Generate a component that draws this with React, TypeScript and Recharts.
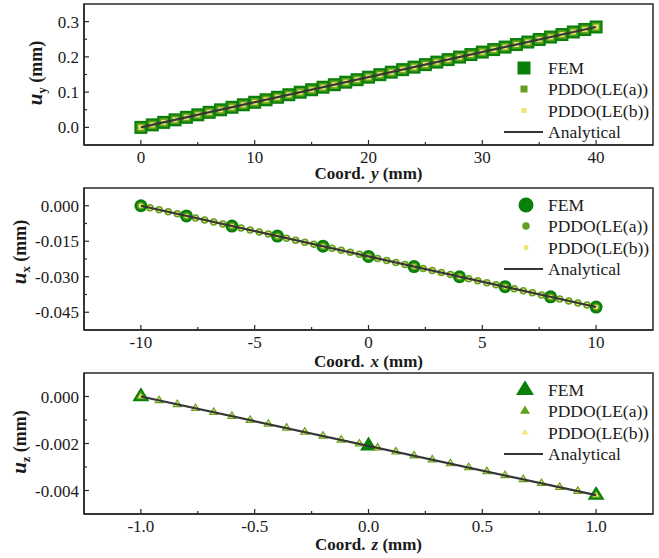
import React from 'react';
import { ScatterChart, Scatter, XAxis, YAxis, ReferenceArea, Legend } from 'recharts';

const FONT = 'Liberation Serif, DejaVu Serif, serif';
const C_FEM = '#0a7f0a';
const C_A = '#62a020';
const C_B = '#ece870';
const C_LINE = '#363636';
const C_AXIS = '#2a2a2a';
const C_TEXT = '#1a1a1a';

// ---------- Panel 1: u_y vs Coord. y ----------
const yCoord = [0, 1, 2, 3, 4, 5, 6, 7, 8, 9, 10, 11, 12, 13, 14, 15, 16, 17, 18, 19, 20, 21, 22, 23, 24, 25, 26, 27, 28, 29, 30, 31, 32, 33, 34, 35, 36, 37, 38, 39, 40];
const uyFem = [0, 0.0071, 0.0142, 0.0214, 0.0285, 0.0356, 0.0427, 0.0498, 0.057, 0.0641, 0.0712, 0.0783, 0.0854, 0.0926, 0.0997, 0.1068, 0.1139, 0.121, 0.1282, 0.1353, 0.1424, 0.1495, 0.1566, 0.1638, 0.1709, 0.178, 0.1851, 0.1922, 0.1994, 0.2065, 0.2136, 0.2207, 0.2278, 0.235, 0.2421, 0.2492, 0.2563, 0.2634, 0.2706, 0.2777, 0.2848];
const uyPddoA = uyFem;
const uyPddoB = uyFem;
const analyticalY = [0, 40];
const analyticalUy = [0, 0.2848];
const xTicks1 = [0, 5, 10, 15, 20, 25, 30, 35, 40];
const xMajor1 = [0, 10, 20, 30, 40];
const yTicks1 = [0, 0.05, 0.1, 0.15, 0.2, 0.25, 0.3];
const yMajor1 = [0, 0.1, 0.2, 0.3];

// ---------- Panel 2: u_x vs Coord. x ----------
const xFem = [-10, -8, -6, -4, -2, 0, 2, 4, 6, 8, 10];
const uxFem = [0, -0.0043, -0.0086, -0.0128, -0.0171, -0.0214, -0.0257, -0.03, -0.0342, -0.0385, -0.0428];
const xPddo = [-10, -9.6, -9.2, -8.8, -8.4, -8, -7.6, -7.2, -6.8, -6.4, -6, -5.6, -5.2, -4.8, -4.4, -4, -3.6, -3.2, -2.8, -2.4, -2, -1.6, -1.2, -0.8, -0.4, 0, 0.4, 0.8, 1.2, 1.6, 2, 2.4, 2.8, 3.2, 3.6, 4, 4.4, 4.8, 5.2, 5.6, 6, 6.4, 6.8, 7.2, 7.6, 8, 8.4, 8.8, 9.2, 9.6, 10];
const uxPddo = [0, -0.00086, -0.00171, -0.00257, -0.00342, -0.00428, -0.00514, -0.00599, -0.00685, -0.0077, -0.00856, -0.00942, -0.01027, -0.01113, -0.01198, -0.01284, -0.0137, -0.01455, -0.01541, -0.01626, -0.01712, -0.01798, -0.01883, -0.01969, -0.02054, -0.0214, -0.02226, -0.02311, -0.02397, -0.02482, -0.02568, -0.02654, -0.02739, -0.02825, -0.0291, -0.02996, -0.03082, -0.03167, -0.03253, -0.03338, -0.03424, -0.0351, -0.03595, -0.03681, -0.03766, -0.03852, -0.03938, -0.04023, -0.04109, -0.04194, -0.0428];
const analyticalX = [-10, 10];
const analyticalUx = [0, -0.0428];
const xTicks2 = [-10, -7.5, -5, -2.5, 0, 2.5, 5, 7.5, 10];
const xMajor2 = [-10, -5, 0, 5, 10];
const yTicks2 = [0, -0.0075, -0.015, -0.0225, -0.03, -0.0375, -0.045];
const yMajor2 = [0, -0.015, -0.03, -0.045];

// ---------- Panel 3: u_z vs Coord. z ----------
const zFem = [-1, 0, 1];
const uzFem = [0, -0.0021, -0.0042];
const zPddo = [-1, -0.92, -0.84, -0.76, -0.68, -0.6, -0.52, -0.44, -0.36, -0.28, -0.2, -0.12, -0.04, 0.04, 0.12, 0.2, 0.28, 0.36, 0.44, 0.52, 0.6, 0.68, 0.76, 0.84, 0.92, 1];
const uzPddo = [0, -0.000168, -0.000336, -0.000504, -0.000672, -0.00084, -0.001008, -0.001176, -0.001344, -0.001512, -0.00168, -0.001848, -0.002016, -0.002184, -0.002352, -0.00252, -0.002688, -0.002856, -0.003024, -0.003192, -0.00336, -0.003528, -0.003696, -0.003864, -0.004032, -0.0042];
const analyticalZ = [-1, 1];
const analyticalUz = [0, -0.0042];
const xTicks3 = [-1, -0.75, -0.5, -0.25, 0, 0.25, 0.5, 0.75, 1];
const xMajor3 = [-1, -0.5, 0, 0.5, 1];
const yTicks3 = [0, -0.001, -0.002, -0.003, -0.004];
const yMajor3 = [0, -0.002, -0.004];

const legendLabels = ['FEM', 'PDDO(LE(a))', 'PDDO(LE(b))', 'Analytical'];

type Kind = 'square' | 'circle' | 'triangle';

const zip = (xs: number[], us: number[]) => xs.map((x, i) => ({ x, u: us[i] }));
const isIn = (arr: number[], v: number) => arr.some((m) => Math.abs(m - v) < 1e-9);
const txtStyle = (size: number, bold = false): React.CSSProperties => ({
  fontFamily: FONT,
  fontSize: size,
  fontWeight: bold ? 700 : 400,
});

function markerEl(kind: Kind, cx: number, cy: number, size: number, color: string, key?: string) {
  if (kind === 'square') {
    return <rect key={key} x={cx - size / 2} y={cy - size / 2} width={size} height={size} fill={color} />;
  }
  if (kind === 'circle') {
    return <circle key={key} cx={cx} cy={cy} r={size / 2} fill={color} />;
  }
  const h = size * 0.82;
  const pts = `${cx},${cy - (h * 2) / 3} ${cx - size / 2},${cy + h / 3} ${cx + size / 2},${cy + h / 3}`;
  return <polygon key={key} points={pts} fill={color} />;
}

const makeShape = (kind: Kind, size: number, color: string) => (props: any) => {
  const { cx, cy } = props;
  if (cx == null || cy == null) return <g />;
  return markerEl(kind, cx, cy, size, color);
};

const makeXTick = (major: number[], fmt: (v: number) => string) => (props: any) => {
  const { x, y, payload } = props;
  const v = payload.value;
  const mj = isIn(major, v);
  return (
    <g>
      <line x1={x} y1={y} x2={x} y2={y - (mj ? 5 : 3)} stroke={C_AXIS} strokeWidth={1.2} />
      {mj && (
        <text x={x} y={y + 18} textAnchor="middle" style={txtStyle(17)} fill={C_TEXT}>
          {fmt(v)}
        </text>
      )}
    </g>
  );
};

const makeYTick = (major: number[], fmt: (v: number) => string) => (props: any) => {
  const { x, y, payload } = props;
  const v = payload.value;
  const mj = isIn(major, v);
  return (
    <g>
      <line x1={x} y1={y} x2={x + (mj ? 5 : 3)} y2={y} stroke={C_AXIS} strokeWidth={1.2} />
      {mj && (
        <text x={x - 5} y={y + 6} textAnchor="end" style={txtStyle(17)} fill={C_TEXT}>
          {fmt(v)}
        </text>
      )}
    </g>
  );
};

function LegendGraphic({ kind, sizes, mx }: { kind: Kind; sizes: number[]; mx: number }) {
  const rows = [11, 32, 53.5, 75];
  const colors = [C_FEM, C_A, C_B];
  return (
    <svg width={165} height={92} style={{ display: 'block', overflow: 'visible' }}>
      {colors.map((c, i) => markerEl(kind, mx, rows[i], sizes[i], c, 'm' + i))}
      <line x1={9} x2={48} y1={rows[3]} y2={rows[3]} stroke={C_LINE} strokeWidth={2.2} />
      {legendLabels.map((t, i) => (
        <text key={t} x={53} y={rows[i] + 6} style={txtStyle(17.5)} fill={C_TEXT}>
          {t}
        </text>
      ))}
    </svg>
  );
}

interface PanelProps {
  top: number;
  height: number;
  marginTop: number;
  xAxisH: number;
  xDomain: [number, number];
  yDomain: [number, number];
  xTicks: number[];
  xMajor: number[];
  xFmt: (v: number) => string;
  yTicks: number[];
  yMajor: number[];
  yFmt: (v: number) => string;
  fem: { x: number; u: number }[];
  pddoA: { x: number; u: number }[];
  pddoB: { x: number; u: number }[];
  analytical: { x: number; u: number }[];
  kind: Kind;
  sizes: number[];
  legendSizes: number[];
  legendTop: number;
  legendMx: number;
  coordVar: string;
  uSub: string;
  xTitleDy: number;
  yTitleX: number;
  yTitleY: number;
}

function Panel(p: PanelProps) {
  const W = 659;
  const plotLeft = 84;
  const plotRight = W - 6;
  const plotBottom = p.height - p.xAxisH;
  const cx = (plotLeft + plotRight) / 2;
  const xTitle = () => (
    <text x={cx} y={plotBottom + p.xTitleDy} textAnchor="middle" style={txtStyle(17, true)} fill={C_TEXT}>
      Coord.
      <tspan dx={6} fontStyle="italic">{p.coordVar}</tspan>
      <tspan> (mm)</tspan>
    </text>
  );
  const yTitle = () => (
    <text
      x={p.yTitleX}
      y={p.yTitleY}
      textAnchor="middle"
      transform={`rotate(-90, ${p.yTitleX}, ${p.yTitleY})`}
      style={txtStyle(18, true)}
      fill={C_TEXT}
    >
      <tspan fontStyle="italic" style={{ fontSize: 21 }}>u</tspan>
      <tspan style={{ fontSize: 12.5 }} dy={4}>{p.uSub}</tspan>
      <tspan dy={-4}> (mm)</tspan>
    </text>
  );
  return (
    <div style={{ position: 'absolute', left: 0, top: p.top, width: W, height: p.height }}>
      <ScatterChart width={W} height={p.height} margin={{ top: p.marginTop, right: 6, bottom: 0, left: 0 }}>
        <XAxis
          type="number"
          dataKey="x"
          domain={p.xDomain}
          allowDataOverflow
          ticks={p.xTicks}
          interval={0}
          height={p.xAxisH}
          tickSize={0}
          tickMargin={0}
          tickLine={false}
          axisLine={{ stroke: C_AXIS, strokeWidth: 1.5 }}
          tick={makeXTick(p.xMajor, p.xFmt)}
          label={xTitle}
        />
        <YAxis
          type="number"
          dataKey="u"
          domain={p.yDomain}
          allowDataOverflow
          ticks={p.yTicks}
          interval={0}
          width={84}
          tickSize={0}
          tickMargin={0}
          tickLine={false}
          axisLine={{ stroke: C_AXIS, strokeWidth: 1.5 }}
          tick={makeYTick(p.yMajor, p.yFmt)}
          label={yTitle}
        />
        <ReferenceArea
          x1={p.xDomain[0]}
          x2={p.xDomain[1]}
          y1={p.yDomain[0]}
          y2={p.yDomain[1]}
          fill="none"
          fillOpacity={0}
          stroke={C_AXIS}
          strokeWidth={1.5}
          ifOverflow="visible"
        />
        <Scatter data={p.fem} shape={makeShape(p.kind, p.sizes[0], C_FEM)} isAnimationActive={false} />
        <Scatter data={p.pddoA} shape={makeShape(p.kind, p.sizes[1], C_A)} isAnimationActive={false} />
        <Scatter data={p.pddoB} shape={makeShape(p.kind, p.sizes[2], C_B)} isAnimationActive={false} />
        <Scatter
          data={p.analytical}
          line={{ stroke: C_LINE, strokeWidth: 2.2 }}
          shape={() => <g />}
          isAnimationActive={false}
        />
        <Legend
          layout="vertical"
          align="center"
          verticalAlign="middle"
          wrapperStyle={{ position: 'absolute', left: 495, top: p.legendTop, width: 165, height: 92, margin: 0, padding: 0, lineHeight: 0 }}
          content={() => <LegendGraphic kind={p.kind} sizes={p.legendSizes} mx={p.legendMx} />}
        />
      </ScatterChart>
    </div>
  );
}

export default function App() {
  return (
    <div style={{ position: 'absolute', left: 0, top: 0, width: 659, height: 558, background: '#ffffff', overflow: 'hidden' }}>
      <Panel
        top={0}
        height={184}
        marginTop={4}
        xAxisH={39}
        xDomain={[-5, 45]}
        yDomain={[-0.05, 0.35]}
        xTicks={xTicks1}
        xMajor={xMajor1}
        xFmt={(v) => String(Math.round(v))}
        yTicks={yTicks1}
        yMajor={yMajor1}
        yFmt={(v) => v.toFixed(1)}
        fem={zip(yCoord, uyFem)}
        pddoA={zip(yCoord, uyPddoA)}
        pddoB={zip(yCoord, uyPddoB)}
        analytical={zip(analyticalY, analyticalUy)}
        kind="square"
        sizes={[13, 8.5, 5]}
        legendSizes={[13, 7, 5]}
        legendTop={57}
        legendMx={29}
        coordVar="y"
        uSub="y"
        xTitleDy={34}
        yTitleX={42}
        yTitleY={73}
      />
      <Panel
        top={180}
        height={194}
        marginTop={8}
        xAxisH={44}
        xDomain={[-12.5, 12.5]}
        yDomain={[-0.0525, 0.0075]}
        xTicks={xTicks2}
        xMajor={xMajor2}
        xFmt={(v) => String(Math.round(v))}
        yTicks={yTicks2}
        yMajor={yMajor2}
        yFmt={(v) => v.toFixed(3)}
        fem={zip(xFem, uxFem)}
        pddoA={zip(xPddo, uxPddo)}
        pddoB={zip(xPddo, uxPddo)}
        analytical={zip(analyticalX, analyticalUx)}
        kind="circle"
        sizes={[13, 7.5, 4.5]}
        legendSizes={[15, 7.5, 5]}
        legendTop={14}
        legendMx={31}
        coordVar="x"
        uSub="x"
        xTitleDy={37}
        yTitleX={26}
        yTitleY={72}
      />
      <Panel
        top={366}
        height={192}
        marginTop={7}
        xAxisH={44}
        xDomain={[-1.25, 1.25]}
        yDomain={[-0.005, 0.001]}
        xTicks={xTicks3}
        xMajor={xMajor3}
        xFmt={(v) => v.toFixed(1)}
        yTicks={yTicks3}
        yMajor={yMajor3}
        yFmt={(v) => v.toFixed(3)}
        fem={zip(zFem, uzFem)}
        pddoA={zip(zPddo, uzPddo)}
        pddoB={zip(zPddo, uzPddo)}
        analytical={zip(analyticalZ, analyticalUz)}
        kind="triangle"
        sizes={[17, 10, 6]}
        legendSizes={[18, 10, 6.5]}
        legendTop={13}
        legendMx={30}
        coordVar="z"
        uSub="z"
        xTitleDy={36}
        yTitleX={26}
        yTitleY={76}
      />
    </div>
  );
}
